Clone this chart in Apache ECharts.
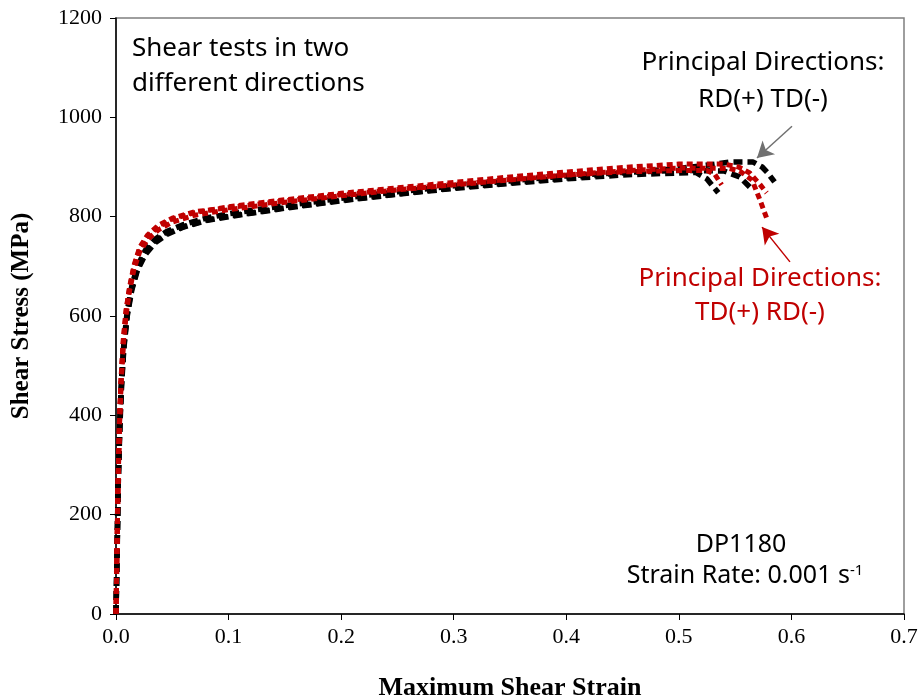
<!DOCTYPE html>
<html>
<head>
<meta charset="utf-8">
<script src="https://cdn.jsdelivr.net/npm/echarts@6/dist/echarts.min.js"></script>
<style>html,body{margin:0;padding:0;background:#fff}#c{width:920px;height:699px}</style>
</head>
<body>
<div id="c"></div>
<script>
// ---- data (strain, stress MPa) ----
const xTicks = [0, 0.1, 0.2, 0.3, 0.4, 0.5, 0.6, 0.7];
const yTicks = [0, 200, 400, 600, 800, 1000, 1200];

const blackA = [[0,0],[0.001,130],[0.002,270],[0.0035,390],[0.005,470],[0.007,540],[0.01,605],[0.014,655],[0.019,695],[0.026,727],[0.035,750],[0.045,766],[0.06,780],[0.08,793],[0.1,801],[0.15,818],[0.2,833],[0.25,846],[0.3,858],[0.35,868],[0.4,878],[0.45,888],[0.5,897],[0.53,905],[0.545,910],[0.566,910],[0.574,900],[0.579,888],[0.585,870]];
const blackB = [[0,0],[0.001,120],[0.002,260],[0.0035,380],[0.005,462],[0.007,535],[0.01,600],[0.014,652],[0.019,692],[0.026,724],[0.035,748],[0.045,764],[0.06,779],[0.08,792],[0.1,800],[0.15,817],[0.2,832],[0.25,845],[0.3,857],[0.35,867],[0.4,876],[0.45,884],[0.5,888],[0.515,889],[0.525,876],[0.535,848]];
const blackC = [[0,0],[0.001,135],[0.002,275],[0.0035,395],[0.005,475],[0.007,545],[0.01,610],[0.014,660],[0.019,700],[0.026,732],[0.035,755],[0.045,770],[0.06,784],[0.08,797],[0.1,806],[0.15,822],[0.2,837],[0.25,850],[0.3,862],[0.35,872],[0.4,882],[0.45,889],[0.5,893],[0.54,892],[0.554,880],[0.566,853]];
const redA = [[0,0],[0.0008,120],[0.0018,260],[0.003,380],[0.0045,470],[0.0065,550],[0.009,610],[0.012,655],[0.016,700],[0.021,735],[0.028,760],[0.038,780],[0.05,795],[0.07,808],[0.1,820],[0.15,834],[0.2,847],[0.25,858],[0.3,869],[0.35,880],[0.4,890],[0.45,899],[0.5,906],[0.54,906],[0.553,900],[0.563,888],[0.572,865],[0.578,848]];
const redB = [[0,0],[0.0008,115],[0.0018,255],[0.003,372],[0.0045,463],[0.0065,543],[0.009,603],[0.012,650],[0.016,694],[0.021,729],[0.028,754],[0.038,774],[0.05,789],[0.07,803],[0.1,814],[0.15,829],[0.2,842],[0.25,854],[0.3,864],[0.35,874],[0.4,884],[0.45,892],[0.5,898],[0.545,897],[0.554,892],[0.565,874],[0.572,834],[0.578,797]];
const redC = [[0,0],[0.0008,125],[0.0018,265],[0.003,385],[0.0045,475],[0.0065,553],[0.009,613],[0.012,658],[0.016,702],[0.021,738],[0.028,763],[0.038,783],[0.05,797],[0.07,810],[0.1,818],[0.15,832],[0.2,844],[0.25,855],[0.3,865],[0.35,875],[0.4,884],[0.45,890],[0.5,893],[0.525,893],[0.532,885],[0.538,864]];

const arrowGray = [[0.6005, 982], [0.5694, 918]];
const arrowRed = [[0.5987, 709], [0.5739, 779]];

const chart = echarts.init(document.getElementById('c'), null, {renderer: 'canvas'});

function blk(d) {
  return {type: 'line', data: d, showSymbol: false, symbol: 'none', z: 2,
    lineStyle: {color: '#000', width: 5.5, type: [9, 5]}};
}
function red(d) {
  return {type: 'line', data: d, showSymbol: false, symbol: 'none', z: 3,
    lineStyle: {color: '#c00000', width: 5, type: [6, 4]}};
}

const sans = 'Noto Sans';
const serif = 'Liberation Serif';

chart.setOption({
  animation: false,
  grid: {left: 116, right: 16, top: 18, bottom: 85, show: true, borderColor: '#7f7f7f', borderWidth: 1.5,
    containLabel: false, outerBoundsMode: 'none'},
  xAxis: {
    type: 'value', min: 0, max: 0.7, interval: 0.1,
    name: 'Maximum Shear Strain', nameLocation: 'middle', nameGap: 61,
    nameTextStyle: {fontFamily: serif, fontWeight: 'bold', fontSize: 26, color: '#000'},
    axisLine: {show: true, lineStyle: {color: '#000', width: 1.5}},
    axisTick: {show: true, inside: false, length: 6, lineStyle: {color: '#000'}},
    axisLabel: {fontFamily: serif, fontSize: 22, color: '#000', margin: 12,
      formatter: v => v.toFixed(1)},
    splitLine: {show: false}
  },
  yAxis: {
    type: 'value', min: 0, max: 1200, interval: 200,
    name: 'Shear Stress (MPa)', nameLocation: 'middle', nameGap: 82,
    nameTextStyle: {fontFamily: serif, fontWeight: 'bold', fontSize: 25, color: '#000'},
    axisLine: {show: true, lineStyle: {color: '#000', width: 1.5}},
    axisTick: {show: true, inside: false, length: 6, lineStyle: {color: '#000'}},
    axisLabel: {fontFamily: serif, fontSize: 22, color: '#000', margin: 14,
      formatter: v => String(v)},
    splitLine: {show: false}
  },
  series: [
    blk(blackA), blk(blackB), blk(blackC),
    red(redA), red(redB), red(redC),
    {type: 'line', data: [], silent: true,
      markLine: {silent: true, animation: false, symbol: ['none', 'arrow'], symbolSize: [14, 16],
        label: {show: false},
        data: [
          [{coord: arrowGray[0], lineStyle: {color: '#707070', width: 1.5, type: 'solid'}, itemStyle: {color: '#707070'}}, {coord: arrowGray[1]}],
          [{coord: arrowRed[0], lineStyle: {color: '#c00000', width: 1.5, type: 'solid'}, itemStyle: {color: '#c00000'}}, {coord: arrowRed[1]}]
        ]}}
  ],
  graphic: [
    {type: 'text', left: 132, top: 31, style: {text: 'Shear tests in two\ndifferent directions', fontFamily: sans, fontSize: 26, lineHeight: 35, fill: '#000'}},
    {type: 'text', x: 763, y: 44, style: {text: 'Principal Directions:\nRD(+) TD(-)', textAlign: 'center', fontFamily: sans, fontSize: 26, lineHeight: 37, fill: '#000'}},
    {type: 'text', x: 760, y: 262, style: {text: 'Principal Directions:\nTD(+) RD(-)', textAlign: 'center', fontFamily: sans, fontSize: 26, lineHeight: 34, fill: '#c00000'}},
    {type: 'text', x: 741, y: 532, style: {text: 'DP1180', textAlign: 'center', fontFamily: sans, fontSize: 25, fill: '#000'}},
    {type: 'text', x: 745, y: 563, style: {
      text: '{a|Strain Rate: 0.001 s}{b|-1}', textAlign: 'center',
      rich: {a: {fontFamily: sans, fontSize: 25, color: '#000'}, b: {fontFamily: sans, fontSize: 15, color: '#000', verticalAlign: 'top', padding: [0, 0, 11, 0]}}}}
  ]
});
</script>
</body>
</html>
